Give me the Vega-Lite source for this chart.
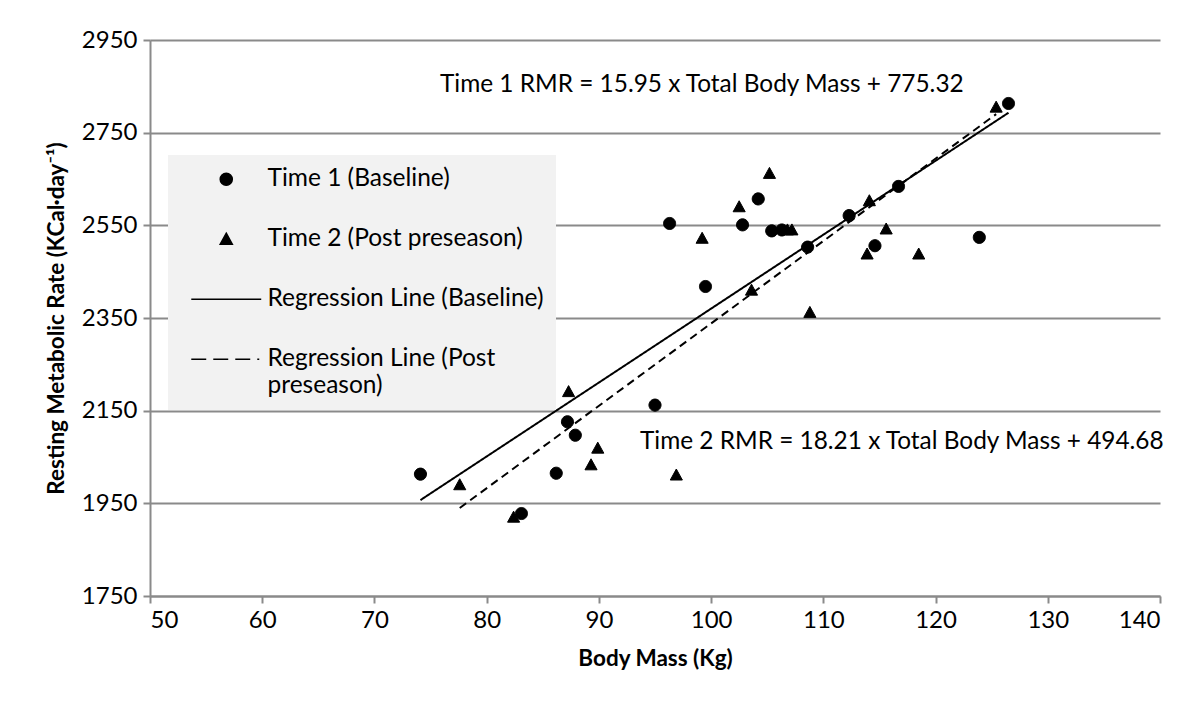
{
  "$schema": "https://vega.github.io/schema/vega-lite/v6.json",
  "width": 1010,
  "height": 556,
  "autosize": {"type": "none"},
  "padding": {"left": 150, "top": 40, "right": 44, "bottom": 115},
  "background": "white",
  "datasets": {
    "points": [
      {"series": "Time 1 (Baseline)", "mass": 74.1, "rmr": 2013},
      {"series": "Time 1 (Baseline)", "mass": 83.1, "rmr": 1928},
      {"series": "Time 1 (Baseline)", "mass": 86.2, "rmr": 2015},
      {"series": "Time 1 (Baseline)", "mass": 87.2, "rmr": 2126},
      {"series": "Time 1 (Baseline)", "mass": 87.9, "rmr": 2097},
      {"series": "Time 1 (Baseline)", "mass": 95.0, "rmr": 2162},
      {"series": "Time 1 (Baseline)", "mass": 96.3, "rmr": 2554},
      {"series": "Time 1 (Baseline)", "mass": 99.5, "rmr": 2418},
      {"series": "Time 1 (Baseline)", "mass": 102.8, "rmr": 2551},
      {"series": "Time 1 (Baseline)", "mass": 104.2, "rmr": 2607},
      {"series": "Time 1 (Baseline)", "mass": 105.4, "rmr": 2538},
      {"series": "Time 1 (Baseline)", "mass": 106.3, "rmr": 2540},
      {"series": "Time 1 (Baseline)", "mass": 108.6, "rmr": 2503},
      {"series": "Time 1 (Baseline)", "mass": 112.3, "rmr": 2571},
      {"series": "Time 1 (Baseline)", "mass": 114.6, "rmr": 2506},
      {"series": "Time 1 (Baseline)", "mass": 116.7, "rmr": 2634},
      {"series": "Time 1 (Baseline)", "mass": 123.9, "rmr": 2524},
      {"series": "Time 1 (Baseline)", "mass": 126.5, "rmr": 2813},
      {"series": "Time 2 (Post preseason)", "mass": 77.6, "rmr": 1990},
      {"series": "Time 2 (Post preseason)", "mass": 82.4, "rmr": 1920},
      {"series": "Time 2 (Post preseason)", "mass": 87.3, "rmr": 2191},
      {"series": "Time 2 (Post preseason)", "mass": 89.3, "rmr": 2033},
      {"series": "Time 2 (Post preseason)", "mass": 89.9, "rmr": 2069},
      {"series": "Time 2 (Post preseason)", "mass": 96.9, "rmr": 2011},
      {"series": "Time 2 (Post preseason)", "mass": 99.2, "rmr": 2522},
      {"series": "Time 2 (Post preseason)", "mass": 102.5, "rmr": 2590},
      {"series": "Time 2 (Post preseason)", "mass": 103.6, "rmr": 2410},
      {"series": "Time 2 (Post preseason)", "mass": 105.2, "rmr": 2662},
      {"series": "Time 2 (Post preseason)", "mass": 106.8, "rmr": 2540},
      {"series": "Time 2 (Post preseason)", "mass": 107.2, "rmr": 2540},
      {"series": "Time 2 (Post preseason)", "mass": 108.8, "rmr": 2362},
      {"series": "Time 2 (Post preseason)", "mass": 113.9, "rmr": 2488},
      {"series": "Time 2 (Post preseason)", "mass": 114.1, "rmr": 2603},
      {"series": "Time 2 (Post preseason)", "mass": 115.6, "rmr": 2542},
      {"series": "Time 2 (Post preseason)", "mass": 118.5, "rmr": 2488},
      {"series": "Time 2 (Post preseason)", "mass": 125.4, "rmr": 2805}
    ],
    "lines": [
      {"series": "Regression Line (Baseline)", "mass": 74.1, "rmr": 1957},
      {"series": "Regression Line (Baseline)", "mass": 126.5, "rmr": 2793},
      {"series": "Regression Line (Post preseason)", "mass": 77.6, "rmr": 1940},
      {"series": "Regression Line (Post preseason)", "mass": 125.4, "rmr": 2790}
    ],
    "notes": [
      {"mass": 75.84, "rmr": 2853, "text": "Time 1 RMR = 15.95  x Total Body Mass + 775.32"},
      {"mass": 93.66, "rmr": 2082, "text": "Time 2 RMR = 18.21 x Total Body Mass + 494.68"}
    ]
  },
  "encoding": {
    "x": {
      "field": "mass", "type": "quantitative",
      "scale": {"domain": [50, 140], "nice": false, "zero": false},
      "axis": {
        "title": "Body Mass (Kg)",
        "values": [50, 60, 70, 80, 90, 100, 110, 120, 130, 140],
        "format": "d",
        "grid": false,
        "tickSize": 7,
        "labelPadding": 5,
        "titlePadding": 15
      }
    },
    "y": {
      "field": "rmr", "type": "quantitative",
      "scale": {"domain": [1750, 2950], "nice": false, "zero": false},
      "axis": {
        "title": "Resting Metabolic Rate (KCal·day⁻¹)",
        "values": [1750, 1950, 2150, 2350, 2550, 2750, 2950],
        "format": "d",
        "grid": true,
        "tickSize": 7,
        "labelPadding": 6,
        "titlePadding": 13
      }
    }
  },
  "layer": [
    {
      "data": {"name": "lines"},
      "mark": {"type": "line", "color": "black", "strokeWidth": 2},
      "encoding": {
        "strokeDash": {
          "field": "series", "type": "nominal",
          "scale": {
            "domain": ["Regression Line (Baseline)", "Regression Line (Post preseason)"],
            "range": [[1, 0], [8, 5]]
          },
          "legend": null
        }
      }
    },
    {
      "data": {"name": "points"},
      "mark": {"type": "point", "filled": true, "color": "black", "stroke": "black", "opacity": 1, "size": 484, "strokeWidth": 1},
      "encoding": {
        "shape": {
          "field": "series", "type": "nominal",
          "scale": {
            "domain": ["Time 1 (Baseline)", "Time 2 (Post preseason)", "Regression Line (Baseline)", "Regression Line (Post preseason)"],
            "range": [
              "M0.55,0A0.55,0.55,0,1,1,-0.55,0A0.55,0.55,0,1,1,0.55,0Z",
              "M0,-0.55L0.55,0.45L-0.55,0.45Z",
              "M-3.18,0H3.18",
              "M-3.18,0H-1.82M-1.18,0H0.18M0.82,0H2.18M2.82,0H3.0"
            ]
          },
          "legend": {
            "title": null,
            "labelExpr": "datum.label == 'Regression Line (Post preseason)' ? ['Regression Line (Post', 'preseason)'] : datum.label",
            "encode": {
              "symbols": {"fill": {"value": "black"}, "stroke": {"value": "black"}, "strokeWidth": {"value": 2}, "opacity": {"value": 1}},
              "labels": {"lineHeight": {"value": 33}}
            }
          }
        }
      }
    },
    {
      "data": {"name": "notes"},
      "mark": {"type": "text", "align": "left", "baseline": "middle", "font": "Lato", "fontSize": 24.4, "color": "black"},
      "encoding": {"text": {"field": "text"}}
    }
  ],
  "config": {
    "view": {"stroke": null},
    "axis": {
      "labelFont": "Lato",
      "labelFontSize": 24,
      "labelColor": "black",
      "titleFont": "Lato",
      "titleFontSize": 22.5,
      "titleFontWeight": "bold",
      "titleColor": "black",
      "domainColor": "#8a8a8a",
      "domainWidth": 2,
      "tickColor": "#8a8a8a",
      "tickWidth": 2,
      "gridColor": "#8a8a8a",
      "gridWidth": 2
    },
    "legend": {
      "orient": "none",
      "legendX": 18,
      "legendY": 115,
      "fillColor": "#f2f2f2",
      "padding": 12,
      "symbolSize": 484,
      "symbolOffset": 34,
      "labelFont": "Lato",
      "labelFontSize": 24.5,
      "labelColor": "black",
      "labelOffset": 29,
      "labelLimit": 1000,
      "rowPadding": 35
    }
  }
}
